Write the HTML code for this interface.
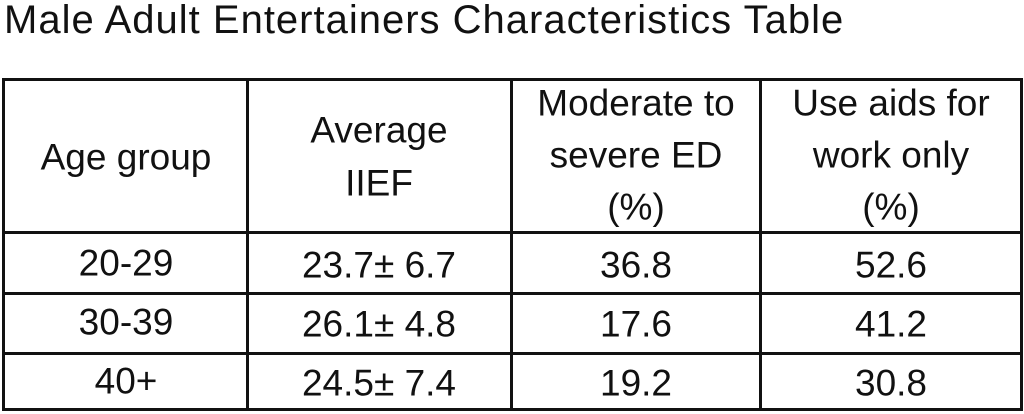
<!DOCTYPE html>
<html><head><meta charset="utf-8"><style>
body{margin:0;width:1024px;height:414px;background:#fff;overflow:hidden;position:relative;font-family:"Liberation Sans",sans-serif;color:#111}
.l{position:absolute;background:#111}
.t{position:absolute;font-size:37px;line-height:1;text-align:center;white-space:nowrap;transform:translate(-50%,-50%)}
</style></head><body>
<div style="position:absolute;left:4px;top:-2px;font-size:40px;white-space:nowrap;letter-spacing:1px">Male Adult Entertainers Characteristics Table</div>
<div class="l" style="left:2px;top:78px;width:1021px;height:3px"></div>
<div class="l" style="left:2px;top:408px;width:1021px;height:3px"></div>
<div class="l" style="left:2px;top:78px;width:3px;height:333px"></div>
<div class="l" style="left:1020px;top:78px;width:3px;height:333px"></div>
<div class="l" style="left:246px;top:78px;width:3px;height:333px"></div>
<div class="l" style="left:510px;top:78px;width:3px;height:333px"></div>
<div class="l" style="left:759px;top:78px;width:3px;height:333px"></div>
<div class="l" style="left:2px;top:231px;width:1021px;height:3px"></div>
<div class="l" style="left:2px;top:292px;width:1021px;height:3px"></div>
<div class="l" style="left:2px;top:352px;width:1021px;height:3px"></div>

<div class="t" style="left:126px;top:157px">Age group</div>
<div class="t" style="left:379px;top:130px">Average</div>
<div class="t" style="left:379px;top:183px">IIEF</div>
<div class="t" style="left:636px;top:103px">Moderate to</div>
<div class="t" style="left:636px;top:155px">severe ED</div>
<div class="t" style="left:636px;top:207px">(%)</div>
<div class="t" style="left:891px;top:103px">Use aids for</div>
<div class="t" style="left:891px;top:155px">work only</div>
<div class="t" style="left:891px;top:207px">(%)</div>

<div class="t" style="left:126px;top:263px">20-29</div>
<div class="t" style="left:379px;top:265px">23.7± 6.7</div>
<div class="t" style="left:636px;top:265px">36.8</div>
<div class="t" style="left:891px;top:265px">52.6</div>

<div class="t" style="left:126px;top:322px">30-39</div>
<div class="t" style="left:379px;top:324px">26.1± 4.8</div>
<div class="t" style="left:636px;top:324px">17.6</div>
<div class="t" style="left:891px;top:324px">41.2</div>

<div class="t" style="left:126px;top:381px">40+</div>
<div class="t" style="left:379px;top:383px">24.5± 7.4</div>
<div class="t" style="left:636px;top:383px">19.2</div>
<div class="t" style="left:891px;top:383px">30.8</div>
</body></html>
